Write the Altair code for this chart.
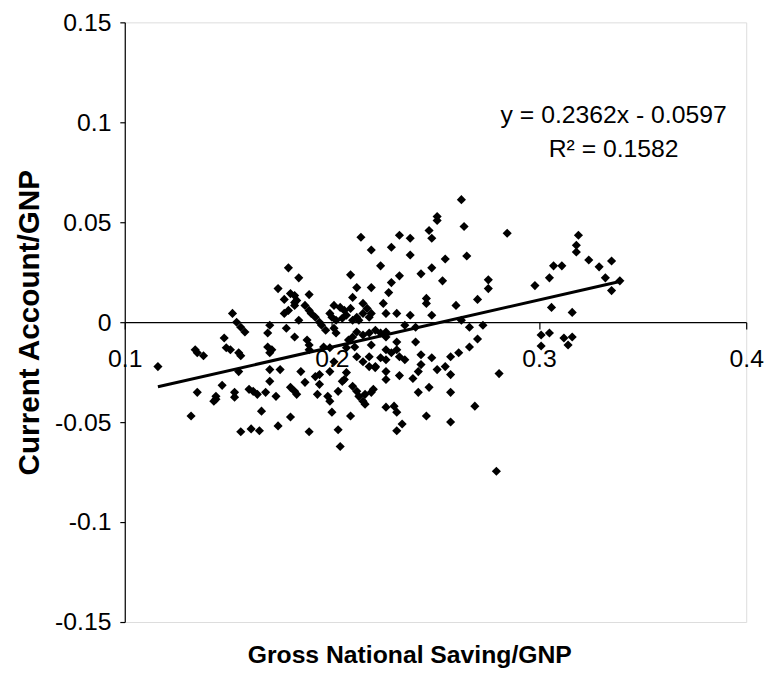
import altair as alt
import pandas as pd

# Gross National Saving/GNP (x) and Current Account/GNP (y), read region by region
sav_a = [0.152, 0.154, 0.156, 0.158, 0.148, 0.149, 0.151, 0.155, 0.156, 0.134, 0.135, 0.138,
         0.116, 0.155, 0.135, 0.144, 0.144, 0.143, 0.147, 0.153, 0.153, 0.160, 0.162, 0.132, 0.156, 0.161]
cur_a = [0.0044, 0.0, -0.0025, -0.0049, -0.0079, -0.0128, -0.0138, -0.0153, -0.0168, -0.0138, -0.0153, -0.0168,
         -0.0222, -0.0247, -0.0351, -0.0371, -0.0385, -0.0395, -0.0316, -0.0351, -0.0375, -0.0336, -0.0346, -0.0469, -0.0548, -0.0534]

sav_b = [0.214, 0.219, 0.209, 0.179, 0.184]
cur_b = [0.0425, 0.0361, 0.0237, 0.0272, 0.0222]

sav_c = [0.174, 0.180, 0.182, 0.183, 0.182, 0.189, 0.177, 0.212, 0.219, 0.210,
         0.182, 0.179, 0.177, 0.187, 0.189, 0.190, 0.201, 0.204, 0.206, 0.209,
         0.215, 0.217, 0.219, 0.192, 0.194, 0.195, 0.197, 0.199, 0.200, 0.202,
         0.205, 0.207, 0.210, 0.212, 0.213, 0.215, 0.218, 0.184, 0.170, 0.178,
         0.169, 0.182, 0.201, 0.202, 0.212, 0.210, 0.208, 0.215, 0.218, 0.221,
         0.188, 0.189, 0.169, 0.171, 0.170, 0.196, 0.199, 0.207, 0.211, 0.219,
         0.189, 0.201, 0.212, 0.215, 0.218, 0.221, 0.218]
cur_c = [0.0168, 0.0143, 0.0133, 0.0109, 0.0099, 0.0138, 0.0114, 0.0173, 0.0173, 0.0124,
         0.0084, 0.0059, 0.0044, 0.0084, 0.0059, 0.0044, 0.0084, 0.0074, 0.0059, 0.0069,
         0.0094, 0.0069, 0.0044, 0.0025, 0.0, -0.0015, -0.0040, 0.0044, 0.0025, 0.0010,
         0.0020, 0.0035, 0.0010, 0.0025, 0.0010, 0.0044, 0.0025, 0.0010, -0.0015, -0.0030,
         -0.0054, -0.0074, -0.0030, -0.0054, -0.0049, -0.0074, -0.0089, -0.0064, -0.0054, -0.0040,
         -0.0089, -0.0114, -0.0124, -0.0138, -0.0153, -0.0124, -0.0128, -0.0128, -0.0124, -0.0114,
         -0.0138, -0.0198, -0.0173, -0.0198, -0.0173, -0.0222, -0.0222]

sav_d = [0.170, 0.175, 0.185, 0.192, 0.194, 0.199, 0.207, 0.206, 0.205, 0.170,
         0.187, 0.194, 0.180, 0.182, 0.183, 0.164, 0.168, 0.173, 0.193, 0.198,
         0.199, 0.203, 0.210, 0.212, 0.213, 0.215, 0.216, 0.216, 0.219, 0.220,
         0.166, 0.180, 0.200, 0.209, 0.165, 0.174, 0.189, 0.203, 0.204]
cur_d = [-0.0237, -0.0237, -0.0247, -0.0272, -0.0262, -0.0247, -0.0252, -0.0287, -0.0296, -0.0296,
         -0.0301, -0.0311, -0.0326, -0.0346, -0.0361, -0.0361, -0.0351, -0.0371, -0.0361, -0.0371,
         -0.0395, -0.0346, -0.0321, -0.0346, -0.0371, -0.0395, -0.0410, -0.0361, -0.0351, -0.0336,
         -0.0445, -0.0474, -0.0450, -0.0469, -0.0543, -0.0519, -0.0548, -0.0538, -0.0622]

sav_e = [0.2625, 0.2508, 0.2508, 0.2638, 0.2846, 0.2469, 0.2482, 0.2326, 0.2378, 0.2287,
         0.2378, 0.2547, 0.2651, 0.2235, 0.2482, 0.2430, 0.2326, 0.2287, 0.2534, 0.2755,
         0.2755, 0.2274, 0.2456, 0.2703]
cur_e = [0.0613, 0.0529, 0.0509, 0.0479, 0.0445, 0.0459, 0.0420, 0.0435, 0.0420, 0.0375,
         0.0336, 0.0316, 0.0331, 0.0282, 0.0272, 0.0242, 0.0232, 0.0198, 0.0207, 0.0212,
         0.0168, 0.0148, 0.0119, 0.0114]

sav_f = [0.2248, 0.2261, 0.2313, 0.2456, 0.2599, 0.2378, 0.2482, 0.2352, 0.2404, 0.2625,
         0.2664, 0.2729, 0.2235, 0.2261, 0.2261, 0.2313, 0.2404, 0.2703, 0.2664, 0.2261,
         0.2287, 0.2313, 0.2235, 0.2261, 0.2326, 0.2352, 0.2430, 0.2482, 0.2573, 0.2612,
         0.2209, 0.2261, 0.2430, 0.2417, 0.2508, 0.2547, 0.2573, 0.2326, 0.2391, 0.2261,
         0.2807, 0.2469, 0.2417, 0.2573, 0.2261, 0.2300, 0.2313, 0.2690, 0.2456, 0.2573,
         0.2339, 0.2313, 0.2794]
cur_f = [0.0094, 0.0044, 0.0044, 0.0094, 0.0084, 0.0035, 0.0035, -0.0015, -0.0025, 0.0010,
         -0.0025, -0.0015, -0.0054, -0.0049, -0.0074, -0.0099, -0.0099, -0.0084, -0.0124, -0.0138,
         -0.0153, -0.0138, -0.0178, -0.0188, -0.0173, -0.0188, -0.0163, -0.0178, -0.0173, -0.0153,
         -0.0227, -0.0247, -0.0212, -0.0247, -0.0237, -0.0222, -0.0262, -0.0267, -0.0282, -0.0287,
         -0.0257, -0.0326, -0.0351, -0.0351, -0.0425, -0.0420, -0.0450, -0.0420, -0.0469, -0.0499,
         -0.0509, -0.0543, -0.0746]

sav_g = [0.319, 0.318, 0.318, 0.324, 0.329, 0.335, 0.307, 0.311, 0.305, 0.298,
         0.332, 0.339, 0.335, 0.306, 0.316, 0.301, 0.305, 0.312, 0.316, 0.301, 0.314]
cur_g = [0.0435, 0.0385, 0.0351, 0.0311, 0.0277, 0.0306, 0.0282, 0.0282, 0.0222, 0.0183,
         0.0222, 0.0207, 0.0158, 0.0074, 0.0049, -0.0064, -0.0054, -0.0079, -0.0074, -0.0119, -0.0114]

# Trend line (as printed on the chart)
slope = 0.2362
intercept = -0.0597
r_squared = 0.1582

x_ticks = [0.1, 0.2, 0.3, 0.4]
y_ticks = [-0.15, -0.1, -0.05, 0, 0.05, 0.1, 0.15]

saving = sav_a + sav_b + sav_c + sav_d + sav_e + sav_f + sav_g
current = cur_a + cur_b + cur_c + cur_d + cur_e + cur_f + cur_g

FONT = "Liberation Sans"

points_df = pd.DataFrame({"saving": saving, "current": current})
line_df = pd.DataFrame({"saving": [min(saving), max(saving)]})
eq_df = pd.DataFrame({
    "saving": [0.336, 0.336],
    "current": [0.1035, 0.0865],
    "label": [f"y = {slope}x - {abs(intercept)}", f"R\u00b2 = {r_squared}"],
})

x_scale = alt.Scale(domain=[0.1, 0.4], nice=False, zero=False)
y_scale = alt.Scale(domain=[-0.15, 0.15], nice=False, zero=False)

x_axis = alt.Axis(
    values=x_ticks, labelExpr="'' + datum.value", offset=-303, grid=False,
    domainColor="black", domainWidth=1.2, tickColor="black", tickSize=7, tickWidth=1.2,
    labelPadding=18, labelFont=FONT, labelFontSize=25, labelColor="black",
    labelFlush=False, labelOverlap=False, title=None,
)
y_axis = alt.Axis(
    values=y_ticks, labelExpr="'' + datum.value", grid=False,
    domainColor="black", domainWidth=1.2, tickColor="black", tickSize=5, tickWidth=1.2,
    labelPadding=9, labelFont=FONT, labelFontSize=25, labelColor="black",
    labelFlush=False, labelOverlap=False,
    title="Current Account/GNP", titleFont=FONT, titleFontSize=30, titleFontWeight="bold",
    titleColor="black", titlePadding=10,
)

pts = alt.Chart(points_df).mark_point(
    shape="diamond", filled=True, color="black", size=85, opacity=1
).encode(
    x=alt.X("saving:Q", scale=x_scale, axis=x_axis),
    y=alt.Y("current:Q", scale=y_scale, axis=y_axis),
)

trend = alt.Chart(line_df).transform_calculate(
    current=f"{slope} * datum.saving + ({intercept})"
).mark_line(color="black", strokeWidth=3).encode(
    x=alt.X("saving:Q", scale=x_scale),
    y=alt.Y("current:Q", scale=y_scale),
)

eq = alt.Chart(eq_df).mark_text(
    font=FONT, fontSize=25, color="black", align="center", baseline="middle"
).encode(
    x=alt.X("saving:Q", scale=x_scale),
    y=alt.Y("current:Q", scale=y_scale),
    text="label:N",
)

chart = alt.layer(pts, trend, eq).properties(
    width=628,
    height=606,
    autosize=alt.AutoSizeParams(type="none"),
    padding={"left": 118, "top": 11, "right": 20, "bottom": 48},
    title=alt.TitleParams(
        text="Gross National Saving/GNP", orient="bottom", anchor="middle",
        font=FONT, fontSize=25, fontWeight="bold", color="black", offset=8, dx=-26,
    ),
).configure_view(stroke=None).configure(background="white")

chart.save("out.html", embed_options={"renderer": "svg", "actions": False})
